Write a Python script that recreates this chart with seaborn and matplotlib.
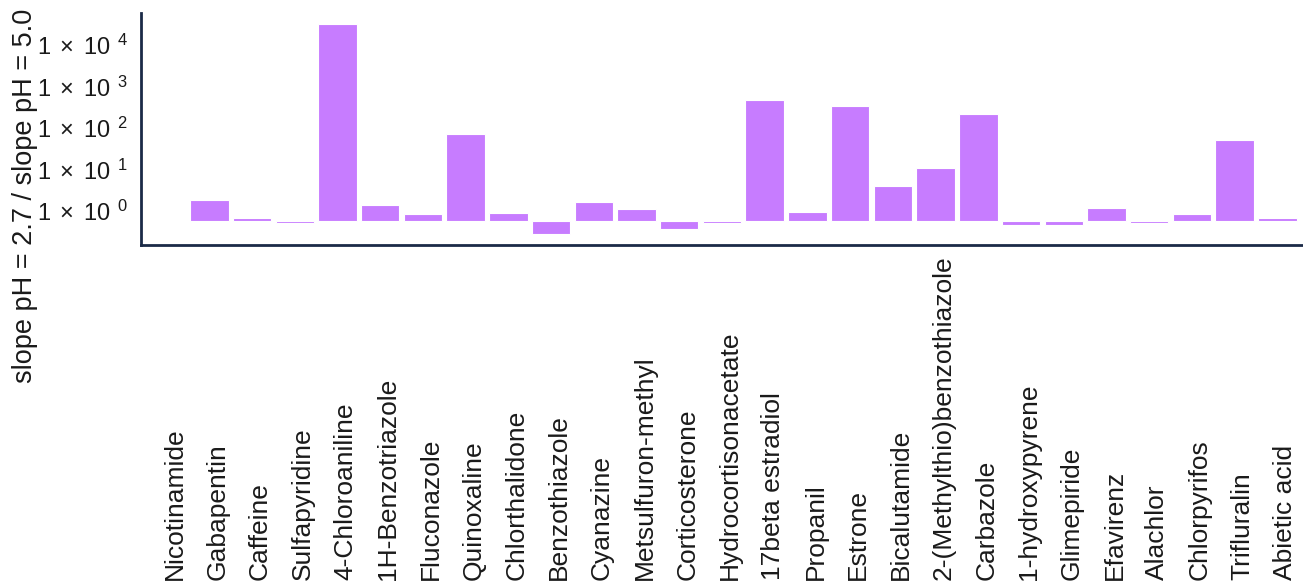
import numpy as np
import pandas as pd
import matplotlib
matplotlib.use("Agg")
import matplotlib.pyplot as plt
from matplotlib.transforms import ScaledTranslation
import seaborn as sns

# Ratio of calibration slopes (pH 2.7 over pH 5.0) per compound
compounds = [
    "Nicotinamide", "Gabapentin", "Caffeine", "Sulfapyridine", "4-Chloroaniline",
    "1H-Benzotriazole", "Fluconazole", "Quinoxaline", "Chlorthalidone", "Benzothiazole",
    "Cyanazine", "Metsulfuron-methyl", "Corticosterone", "Hydrocortisonacetate",
    "17beta estradiol", "Propanil", "Estrone", "Bicalutamide",
    "2-(Methylthio)benzothiazole", "Carbazole", "1-hydroxypyrene", "Glimepiride",
    "Efavirenz", "Alachlor", "Chlorpyrifos", "Trifluralin", "Abietic acid",
]
slope_ratio = [
    1.0, 3.2, 1.22, 0.92, 58000,
    2.43, 1.53, 126, 1.59, 0.48,
    2.92, 1.98, 0.665, 0.91,
    824, 1.71, 600, 6.97,
    18.9, 394, 0.816, 0.816,
    2.06, 0.91, 1.48, 89.6, 1.2,
]
decade_ticks = [0, 1, 2, 3, 4]

sns.set_style("white")
plt.rcParams["font.family"] = ["Liberation Sans", "DejaVu Sans"]
plt.rcParams["mathtext.fontset"] = "custom"
plt.rcParams["mathtext.rm"] = "Liberation Sans"
plt.rcParams["mathtext.it"] = "Liberation Sans:italic"

df = pd.DataFrame({"compound": compounds, "log_ratio": np.log10(slope_ratio)})

fig = plt.figure(figsize=(13.03, 5.83), dpi=100)
ax = fig.add_axes([0.1082, 0.5798, 0.8918, 0.3979])

sns.barplot(data=df, x="compound", y="log_ratio", color="#C77CFF", saturation=1,
            width=0.9, edgecolor="white", linewidth=0.8, ax=ax)

# axis limits: discrete padding on x, 5 % padding on the log axis
lo = min(df["log_ratio"].min(), 0.0)
hi = max(df["log_ratio"].max(), 0.0)
pad = 0.05 * (hi - lo)
ax.set_xlim(-0.6, len(compounds) - 0.4)
ax.set_ylim(lo - pad, hi + pad)

ax.set_yticks(decade_ticks)
ax.set_yticklabels([
    rf"$\mathregular{{1\hspace{{0.3}}\times\hspace{{0.3}}10^{{\hspace{{0.55}}{k}}}}}$"
    for k in decade_ticks
])
ax.set_xlabel("")
ax.set_ylabel("slope pH = 2.7 / slope pH = 5.0", fontsize=19.5, color="#1a1a1a")
ax.yaxis.set_label_coords(-0.0998, 0.211)
ax.yaxis.label.set_va("center")

ax.tick_params(axis="y", length=0, pad=9, labelsize=17, labelcolor="#1a1a1a")
ax.tick_params(axis="x", length=0, pad=241, labelsize=19, labelcolor="#1a1a1a",
               labelrotation=90)

shift = ScaledTranslation(8 / 100, 0, fig.dpi_scale_trans)
for lab in ax.get_xticklabels():
    lab.set_va("bottom")
    lab.set_ha("center")
    lab.set_transform(lab.get_transform() + shift)
for lab in ax.get_yticklabels():
    lab.set_va("baseline")

for side in ("top", "right"):
    ax.spines[side].set_visible(False)
for side in ("left", "bottom"):
    ax.spines[side].set_color("#1B2A47")
    ax.spines[side].set_linewidth(2.0)

fig.savefig("out.png", dpi=100)
